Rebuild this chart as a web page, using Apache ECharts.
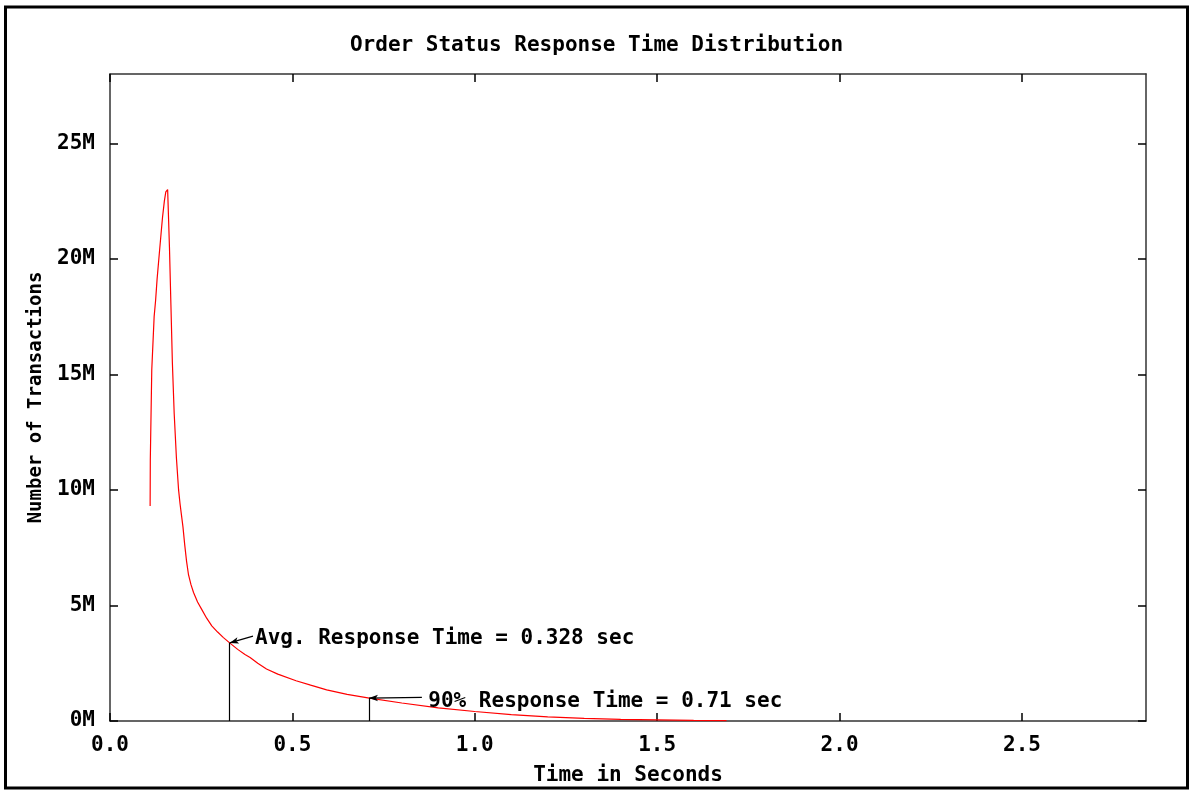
<!DOCTYPE html>
<html>
<head>
<meta charset="utf-8">
<script src="https://cdn.jsdelivr.net/npm/echarts@6/dist/echarts.min.js"></script>
<style>
html,body{margin:0;padding:0;background:#fff;}
#chart{width:1193px;height:791px;}
</style>
</head>
<body>
<div id="chart"></div>
<script>
// ---- data ----
const titleText = 'Order Status Response Time Distribution';
const xAxisTitle = 'Time in Seconds';
const yAxisTitle = 'Number of Transactions';

const timeSec = [0.110, 0.1105, 0.1145, 0.121, 0.125, 0.129, 0.135, 0.140, 0.144, 0.149, 0.153, 0.158, 0.160,
  0.163, 0.167, 0.171, 0.176, 0.182, 0.188, 0.192, 0.196, 0.200, 0.205, 0.210, 0.215, 0.222, 0.229, 0.240,
  0.251, 0.265, 0.279, 0.295, 0.311, 0.328, 0.350, 0.370, 0.384, 0.405, 0.429, 0.460, 0.510, 0.550, 0.594,
  0.650, 0.711, 0.800, 0.900, 1.000, 1.100, 1.200, 1.300, 1.400, 1.500, 1.600, 1.690];
const txCount = [9.3e6, 11.3e6, 15.2e6, 17.5e6, 18.2e6, 19.1e6, 20.2e6, 21.1e6, 21.8e6, 22.5e6, 22.9e6, 23.0e6, 23.05e6,
  20.5e6, 18.0e6, 15.5e6, 13.3e6, 11.4e6, 10.0e6, 9.4e6, 8.9e6, 8.4e6, 7.6e6, 6.9e6, 6.35e6, 5.9e6, 5.56e6, 5.15e6,
  4.84e6, 4.45e6, 4.12e6, 3.85e6, 3.61e6, 3.38e6, 3.1e6, 2.88e6, 2.75e6, 2.5e6, 2.25e6, 2.03e6, 1.74e6, 1.55e6, 1.35e6,
  1.15e6, 0.99e6, 0.78e6, 0.57e6, 0.41e6, 0.28e6, 0.18e6, 0.11e6, 0.07e6, 0.05e6, 0.03e6, 0.02e6];

const xTicks = [0, 0.5, 1.0, 1.5, 2.0, 2.5];
const yTicks = [0, 5e6, 10e6, 15e6, 20e6, 25e6];

const avgTime = 0.328, avgCount = 3.38e6;
const p90Time = 0.71, p90Count = 0.99e6;
const avgLabel = 'Avg. Response Time = 0.328 sec';
const p90Label = '90% Response Time = 0.71 sec';

// ---- chart ----
const FONT = '"DejaVu Sans Mono", "Liberation Mono", monospace';
const txt = {fontFamily: FONT, fontWeight: 'bold', fontSize: 21, color: '#000'};

const avgAnchor = [0.392, 3.67e6];
const p90Anchor = [0.855, 1.02e6];

const chart = echarts.init(document.getElementById('chart'), null, {renderer: 'canvas'});

const xBase = {
  type: 'value', min: 0, max: 2.84, interval: 0.5,
  axisLine: {show: true, onZero: false, lineStyle: {color: '#333', width: 1.5}},
  axisTick: {show: true, inside: true, length: 8, lineStyle: {color: '#000', width: 1.5},
    customValues: xTicks},
  splitLine: {show: false}
};
const yBase = {
  type: 'value', min: 0, max: 28e6, interval: 5e6,
  axisLine: {show: true, onZero: false, lineStyle: {color: '#333', width: 1.5}},
  axisTick: {show: true, inside: true, length: 8, lineStyle: {color: '#000', width: 1.5},
    customValues: yTicks},
  splitLine: {show: false}
};

chart.setOption({
  animation: false,
  backgroundColor: '#fff',
  title: {
    text: titleText, left: 'center', top: 30,
    textStyle: Object.assign({}, txt)
  },
  grid: {left: 110, right: 47, top: 74, bottom: 69, containLabel: false},
  xAxis: [
    Object.assign({}, xBase, {
      position: 'bottom',
      name: xAxisTitle, nameLocation: 'middle', nameGap: 44,
      nameTextStyle: Object.assign({}, txt),
      axisLabel: Object.assign({}, txt, {margin: 14, customValues: xTicks,
        formatter: v => v.toFixed(1)})
    }),
    Object.assign({}, xBase, {position: 'top', axisLabel: {show: false}})
  ],
  yAxis: [
    Object.assign({}, yBase, {
      position: 'left',
      name: yAxisTitle, nameLocation: 'middle', nameGap: 64, nameRotate: 90,
      nameTextStyle: Object.assign({}, txt, {fontSize: 19}),
      axisLabel: Object.assign({}, txt, {margin: 15, customValues: yTicks,
        formatter: v => Math.round(v / 1e6) + 'M'})
    }),
    Object.assign({}, yBase, {position: 'right', axisLabel: {show: false}})
  ],
  graphic: [{
    type: 'rect', shape: {x: 5.5, y: 7, width: 1182, height: 781},
    style: {fill: 'none', stroke: '#000', lineWidth: 3}, silent: true, z: 100
  }],
  series: [
    {
      name: 'curve', type: 'line',
      data: timeSec.map((t, i) => [t, txCount[i]]),
      showSymbol: false, symbol: 'none',
      lineStyle: {color: '#ff0000', width: 1.2},
      itemStyle: {color: '#ff0000'},
      z: 3,
      markLine: {
        silent: true, symbol: ['none', 'none'], animation: false,
        label: {show: false},
        lineStyle: {color: '#000', width: 1.2, type: 'solid'},
        emphasis: {disabled: true},
        data: [
          [{coord: [avgTime, 0]}, {coord: [avgTime, avgCount]}],
          [{coord: [p90Time, 0]}, {coord: [p90Time, p90Count]}],
          [{coord: avgAnchor}, {coord: [avgTime, avgCount], symbol: 'arrow', symbolSize: [5, 9]}],
          [{coord: p90Anchor}, {coord: [p90Time, p90Count], symbol: 'arrow', symbolSize: [5, 9]}]
        ]
      }
    },
    {
      name: 'labels', type: 'scatter', symbolSize: 0, silent: true,
      itemStyle: {opacity: 1},
      data: [
        {value: [avgAnchor[0], avgAnchor[1] - 0.09e6], name: avgLabel},
        {value: [p90Anchor[0] + 0.012, p90Anchor[1] - 0.17e6], name: p90Label}
      ],
      label: Object.assign({show: true, position: 'right', distance: 2,
        formatter: p => p.name}, txt),
      z: 5
    }
  ]
});
</script>
</body>
</html>
